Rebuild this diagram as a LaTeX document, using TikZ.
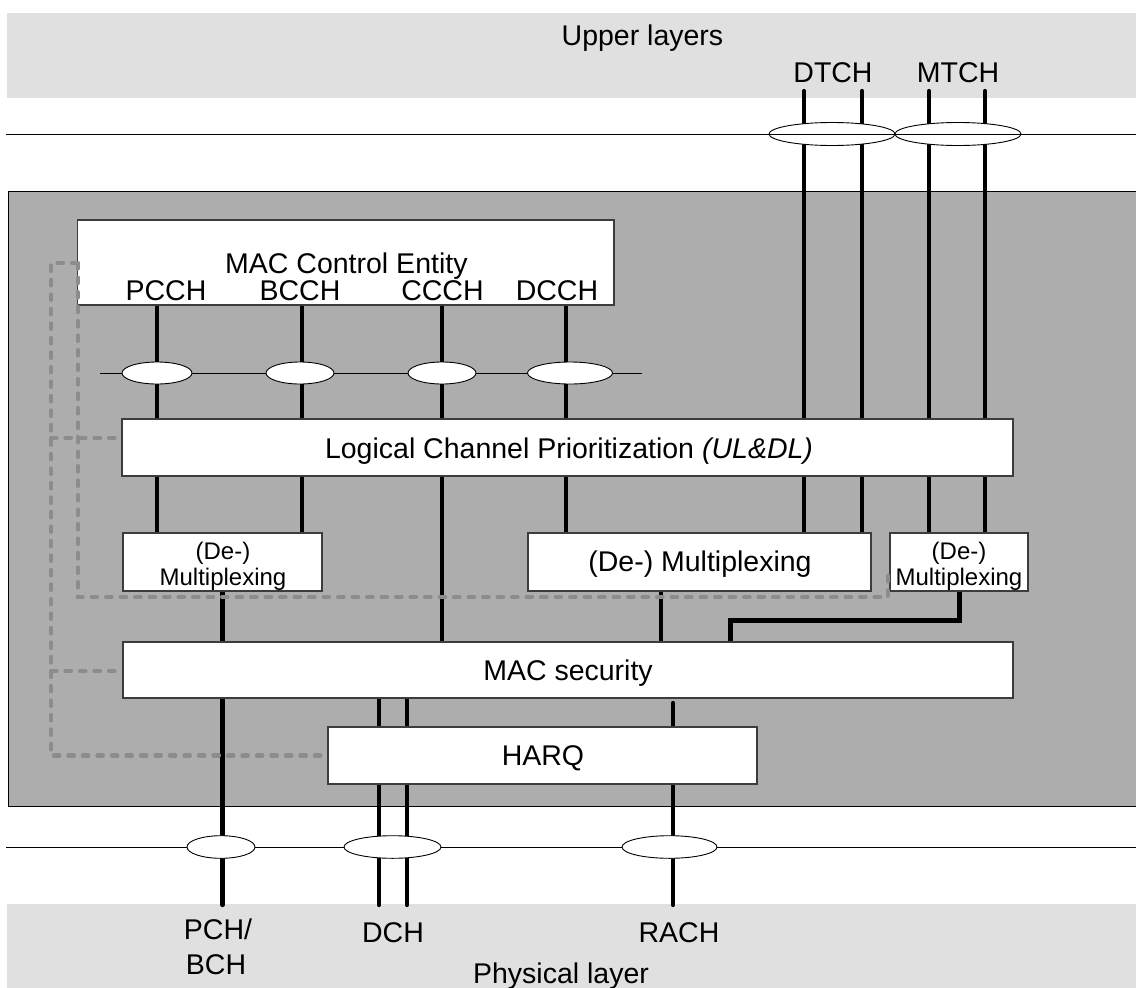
\documentclass[tikz,border=0pt]{standalone}
\usepackage{fontspec}
\setmainfont{Liberation Sans}
\usetikzlibrary{shapes.geometric}
\pgfdeclarelayer{back}
\pgfdeclarelayer{mid}
\pgfsetlayers{back,mid,main}
\definecolor{bandgray}{RGB}{224,224,224}
\definecolor{macgray}{RGB}{173,173,173}
\definecolor{ctlgray}{RGB}{140,140,140}
\definecolor{boxline}{RGB}{60,60,60}
\begin{document}
\begin{tikzpicture}[x=1pt,y=-1pt,
  box/.style={draw=boxline, line width=1.2pt, fill=white, inner sep=0pt, outer sep=0pt, rectangle},
  oval/.style={draw=black, line width=0.9pt, fill=white, ellipse, inner sep=0pt, outer sep=0pt},
  chan/.style={line width=4.2pt, black},
  ctl/.style={draw=ctlgray, line width=4.2pt, line cap=round, dash pattern=on 5.5pt off 9pt},
  big/.style={font=\fontsize{28.5}{30}\selectfont, inner sep=0pt, anchor=base},
  small/.style={font=\fontsize{24}{26}\selectfont, inner sep=0pt, anchor=base},
  thinline/.style={line width=1pt, black}]
\useasboundingbox (0,0) rectangle (1136,988);

% background
\begin{pgfonlayer}{back}
\fill[bandgray] (6.5,13) rectangle (1140,98);
\fill[bandgray] (7,904) rectangle (1140,992);
\filldraw[fill=macgray, draw=black, line width=1pt] (8,191) rectangle (1140,806);
\draw[thinline] (100,373) -- (642,373);
\draw[thinline] (6,847) -- (1140,847);
\end{pgfonlayer}

% boxes
\node[box, minimum width=536.4pt, minimum height=85pt] (mce) at (345.8,262.5) {};
\node[box, minimum width=891pt, minimum height=57pt] (lcp) at (567.5,447.5) {};
\node[box, minimum width=199pt, minimum height=58pt] (dm1) at (222.5,562) {};
\node[box, minimum width=343pt, minimum height=58pt] (dm2) at (699.5,562) {};
\node[box, minimum width=138pt, minimum height=58pt] (dm3) at (959,562) {};
\node[box, minimum width=890pt, minimum height=56pt] (macsec) at (568,670) {};
\node[box, minimum width=429pt, minimum height=57pt] (harq) at (542.5,755.5) {};

% channel positions
\coordinate (cP) at (157,0);
\coordinate (cB) at (302,0);
\coordinate (cC) at (442,0);
\coordinate (cD) at (566,0);
\coordinate (tD1) at (804,0);
\coordinate (tD2) at (862,0);
\coordinate (tM1) at (929,0);
\coordinate (tM2) at (985,0);
\coordinate (xM2) at (661,0);
\coordinate (xR) at (673,0);
\coordinate (xH1) at (379,0);
\coordinate (xH2) at (407,0);
\coordinate (topend) at (0,91);
\coordinate (botend) at (0,905);
\coordinate (bend) at (730,620);
\coordinate (rachtop) at (673,703);

% channels
\begin{pgfonlayer}{mid}
\foreach \c in {tD1,tD2,tM1,tM2} \draw[chan, line cap=round] (\c |- topend) -- (\c |- lcp.north);
\foreach \c in {cP,cB,cC,cD} \draw[chan] (\c |- mce.south) -- (\c |- lcp.north);
\foreach \c in {cP,cB} \draw[chan] (\c |- lcp.south) -- (\c |- dm1.north);
\foreach \c in {cD,tD1,tD2} \draw[chan] (\c |- lcp.south) -- (\c |- dm2.north);
\foreach \c in {tM1,tM2} \draw[chan] (\c |- lcp.south) -- (\c |- dm3.north);
\draw[chan] (cC |- lcp.south) -- (cC |- macsec.north);
\draw[chan] (dm1.south) -- (dm1.south |- macsec.north);
\draw[chan] (xM2 |- dm2.south) -- (xM2 |- macsec.north);
\draw[chan, line width=5pt] (dm3.south) |- (bend) -- (bend |- macsec.north);
\draw[chan, line cap=round] (dm1.south |- macsec.south) -- (dm1.south |- botend);
\foreach \c in {xH1,xH2} {
  \draw[chan] (\c |- macsec.south) -- (\c |- harq.north);
  \draw[chan, line cap=round] (\c |- harq.south) -- (\c |- botend);
}
\draw[chan, line cap=round] (rachtop) -- (xR |- harq.north);
\draw[chan, line cap=round] (xR |- harq.south) -- (xR |- botend);
\end{pgfonlayer}

% multiplexing ellipses
\node[oval, minimum width=126pt, minimum height=23pt] (eDT) at (832,134) {};
\node[oval, minimum width=126pt, minimum height=23pt] (eMT) at (958,134) {};
\draw[thinline] (6,134) -- (1140,134);
\node[oval, minimum width=70pt, minimum height=22pt] (ePC) at (157,373) {};
\node[oval, minimum width=68pt, minimum height=22pt] (eBC) at (300,373) {};
\node[oval, minimum width=68pt, minimum height=22pt] (eCC) at (442,373) {};
\node[oval, minimum width=85pt, minimum height=22pt] (eDC) at (570,373) {};
\node[oval, minimum width=68pt, minimum height=22.6pt] (ePCH) at (221,847) {};
\node[oval, minimum width=97pt, minimum height=22.6pt] (eDCH) at (392.5,847) {};
\node[oval, minimum width=95pt, minimum height=22.6pt] (eRACH) at (669.5,847) {};

% control (dashed) lines
\coordinate (dTop) at (51,263);
\coordinate (dLcp) at (51,438);
\coordinate (dSec) at (51,671);
\coordinate (dHarq) at (51,755.5);
\coordinate (dMux) at (77.6,597);
\coordinate (dMuxR) at (888,597);
\draw[ctl] (mce.west |- dTop) -- (dTop) -- (dHarq) -- (harq.west);
\draw[ctl] (mce.west |- dTop) -- (dMux) -- (dMuxR) -- (dMuxR |- 0,568);
\draw[ctl] (dLcp) -- (lcp.west |- dLcp);
\draw[ctl] (dSec) -- (macsec.west |- dSec);

% texts
\node[big] (tUL) at (642.5,45) {Upper layers};
\node[big] (tDT) at (833,82.7) {DTCH};
\node[big] (tMT) at (958,82.7) {MTCH};
\node[big] (tMCE) at (346.4,273.3) {MAC Control Entity};
\node[big] (tPC) at (166,300.7) {PCCH};
\node[big] (tBC) at (300,300.7) {BCCH};
\node[big] (tCC) at (442.5,300.7) {CCCH};
\node[big] (tDC) at (557,300.7) {DCCH};
\node[big] (tLCP) at (569,458) {Logical Channel Prioritization \textit{(UL\&DL)}};
\node[small] (tDM1a) at (223,559) {(De-)};
\node[small] (tDM1b) at (223,585) {Multiplexing};
\node[big] (tDM2) at (700,571.7) {(De-) Multiplexing};
\node[small] (tDM3a) at (959,559) {(De-)};
\node[small] (tDM3b) at (959,585) {Multiplexing};
\node[big] (tSec) at (568,680) {MAC security};
\node[big] (tHarq) at (543,765) {HARQ};
\node[big] (tPCH) at (218,939) {PCH/};
\node[big] (tBCH) at (216,974) {BCH};
\node[big] (tDCH) at (393,942) {DCH};
\node[big] (tRACH) at (679,942) {RACH};
\node[big] (tPhy) at (561,983) {Physical layer};
\end{tikzpicture}
\end{document}
